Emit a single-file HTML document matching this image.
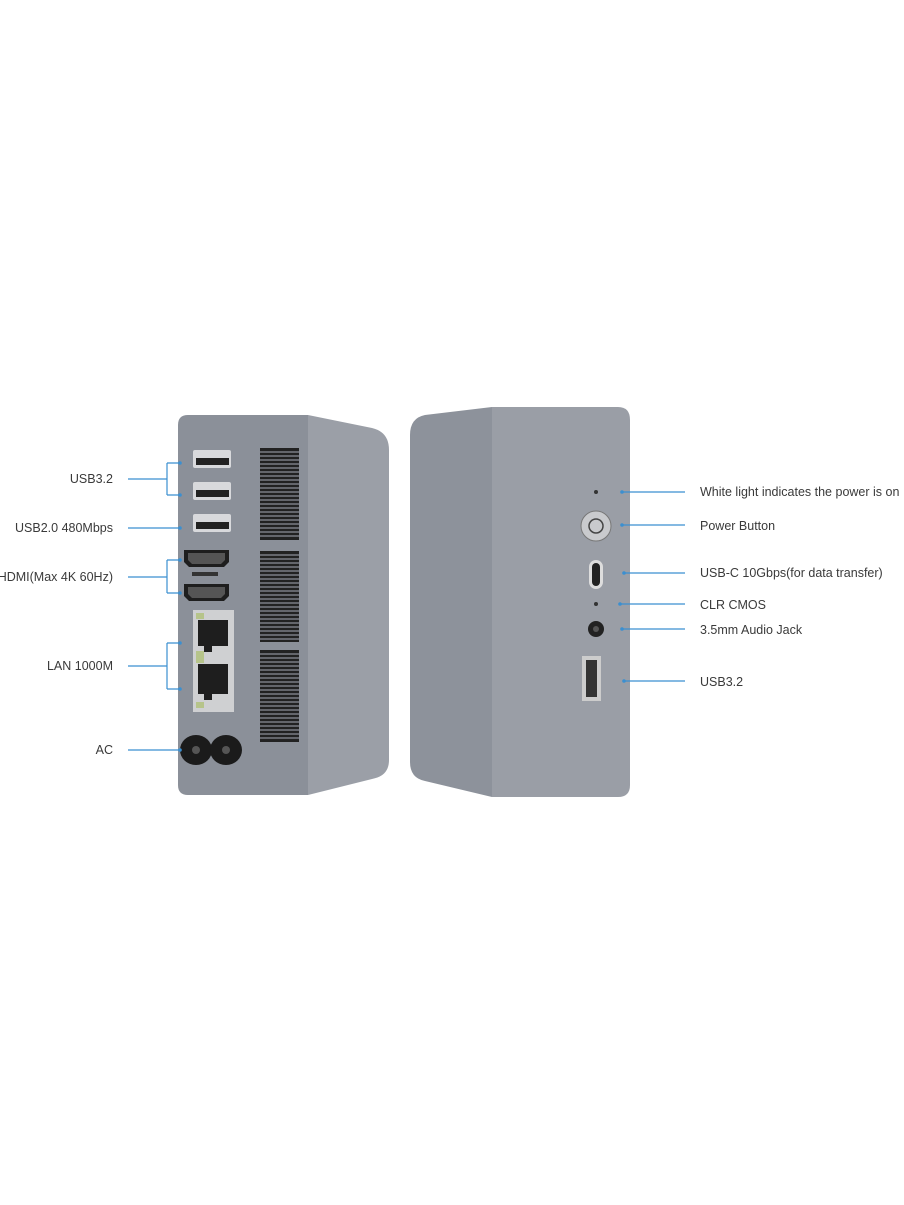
<!DOCTYPE html>
<html><head><meta charset="utf-8"><style>
html,body{margin:0;padding:0;background:#fff;}
svg{display:block;}
text{font-family:"Liberation Sans",sans-serif;font-size:12.5px;fill:#3a3a3a;}
</style></head><body>
<svg width="904" height="1205" viewBox="0 0 904 1205" xmlns="http://www.w3.org/2000/svg">
<!-- Left device -->
<path d="M308,415 L372,428 Q389,432 389,450 L389,760 Q389,776 372,779 L308,795 Z" fill="#9b9fa7"/>
<path d="M188,415 L308,415 L308,795 L188,795 Q178,795 178,785 L178,425 Q178,415 188,415 Z" fill="#8b9099"/>
<g fill="#222">
<rect x="260" y="448" width="39" height="92"/>
<rect x="260" y="551" width="39" height="91"/>
<rect x="260" y="650" width="39" height="92"/>
</g>
<g stroke="#8b9099" stroke-width="1.3">
<path d="M260,452H299M260,456H299M260,460H299M260,464H299M260,468H299M260,472H299M260,476H299M260,480H299M260,484H299M260,488H299M260,492H299M260,496H299M260,500H299M260,504H299M260,508H299M260,512H299M260,516H299M260,520H299M260,524H299M260,528H299M260,532H299M260,536H299"/>
<path d="M260,555H299M260,559H299M260,563H299M260,567H299M260,571H299M260,575H299M260,579H299M260,583H299M260,587H299M260,591H299M260,595H299M260,599H299M260,603H299M260,607H299M260,611H299M260,615H299M260,619H299M260,623H299M260,627H299M260,631H299M260,635H299M260,639H299"/>
<path d="M260,654H299M260,658H299M260,662H299M260,666H299M260,670H299M260,674H299M260,678H299M260,682H299M260,686H299M260,690H299M260,694H299M260,698H299M260,702H299M260,706H299M260,710H299M260,714H299M260,718H299M260,722H299M260,726H299M260,730H299M260,734H299M260,738H299"/>
</g>
<!-- USB ports -->
<g>
<rect x="193" y="450" width="38" height="18" rx="2" fill="#d8d9dc"/><rect x="196" y="458" width="33" height="7" fill="#222"/>
<rect x="193" y="482" width="38" height="18" rx="2" fill="#d8d9dc"/><rect x="196" y="490" width="33" height="7" fill="#222"/>
<rect x="193" y="514" width="38" height="18" rx="2" fill="#d8d9dc"/><rect x="196" y="522" width="33" height="7" fill="#222"/>
</g>
<!-- HDMI -->
<path d="M184,550 H229 V562 L224,567 H189 L184,562 Z" fill="#1e1e1e"/>
<path d="M188,553 H225 V560 L221,564 H192 L188,560 Z" fill="#555"/>
<rect x="192" y="572" width="26" height="4" fill="#333"/>
<path d="M184,584 H229 V596 L224,601 H189 L184,596 Z" fill="#1e1e1e"/>
<path d="M188,587 H225 V594 L221,598 H192 L188,594 Z" fill="#555"/>
<!-- LAN -->
<rect x="193" y="610" width="41" height="102" fill="#cfd0d2"/>
<path d="M198,620 H228 V646 H212 V652 H204 V646 H198 Z" fill="#1e1e1e"/>
<path d="M198,664 H228 V694 H212 V700 H204 V694 H198 Z" fill="#1e1e1e"/>
<rect x="196" y="613" width="8" height="6" fill="#b6c48a"/><rect x="196" y="651" width="8" height="6" fill="#b6c48a"/>
<rect x="196" y="657" width="8" height="6" fill="#b6c48a"/><rect x="196" y="702" width="8" height="6" fill="#b6c48a"/>
<!-- AC -->
<ellipse cx="196" cy="750" rx="16" ry="15" fill="#1b1b1b"/>
<ellipse cx="226" cy="750" rx="16" ry="15" fill="#1b1b1b"/>
<circle cx="196" cy="750" r="4" fill="#555"/><circle cx="226" cy="750" r="4" fill="#555"/>
<!-- left callouts -->
<g stroke="#3b8fd0" stroke-width="1.2" fill="none">
<path d="M128,479 H167 M167,463 V495 M167,463 H180 M167,495 H180"/>
<path d="M128,528 H180"/>
<path d="M128,577 H167 M167,560 V593 M167,560 H180 M167,593 H180"/>
<path d="M128,666 H167 M167,643 V689 M167,643 H180 M167,689 H180"/>
<path d="M128,750 H180"/>
</g>
<g fill="#3b8fd0"><circle cx="180" cy="463" r="1.8"/><circle cx="180" cy="495" r="1.8"/><circle cx="180" cy="528" r="1.8"/><circle cx="180" cy="560" r="1.8"/><circle cx="180" cy="593" r="1.8"/><circle cx="180" cy="643" r="1.8"/><circle cx="180" cy="689" r="1.8"/><circle cx="180" cy="750" r="1.8"/></g>
<g text-anchor="end">
<text x="113" y="483">USB3.2</text>
<text x="113" y="532">USB2.0 480Mbps</text>
<text x="113" y="581">HDMI(Max 4K 60Hz)</text>
<text x="113" y="670">LAN 1000M</text>
<text x="113" y="754">AC</text>
</g>
<!-- Right device -->
<path d="M492,407 L425,415 Q410,418 410,435 L410,762 Q410,778 425,781 L492,797 Z" fill="#8d929b"/>
<path d="M492,407 L618,407 Q630,407 630,420 L630,785 Q630,797 618,797 L492,797 Z" fill="#9a9ea6"/>
<circle cx="596" cy="492" r="2" fill="#333"/>
<circle cx="596" cy="526" r="15" fill="#c9cacd" stroke="#777" stroke-width="1"/>
<circle cx="596" cy="526" r="7" fill="none" stroke="#444" stroke-width="1.5"/>
<rect x="589" y="560" width="14" height="29" rx="7" fill="#ddd"/>
<rect x="592" y="563" width="8" height="23" rx="4" fill="#222"/>
<circle cx="596" cy="604" r="2" fill="#333"/>
<circle cx="596" cy="629" r="8" fill="#222"/><circle cx="596" cy="629" r="3" fill="#555"/>
<rect x="582" y="656" width="19" height="45" fill="#ccc"/>
<rect x="586" y="660" width="11" height="37" fill="#333"/>
<g stroke="#3b8fd0" stroke-width="1.2">
<path d="M622,492 H685 M622,525 H685 M624,573 H685 M620,604 H685 M622,629 H685 M624,681 H685"/>
</g>
<g fill="#3b8fd0"><circle cx="622" cy="492" r="1.8"/><circle cx="622" cy="525" r="1.8"/><circle cx="624" cy="573" r="1.8"/><circle cx="620" cy="604" r="1.8"/><circle cx="622" cy="629" r="1.8"/><circle cx="624" cy="681" r="1.8"/></g>
<text x="700" y="496">White light indicates the power is on</text>
<text x="700" y="530">Power Button</text>
<text x="700" y="577">USB-C 10Gbps(for data transfer)</text>
<text x="700" y="609">CLR CMOS</text>
<text x="700" y="634">3.5mm Audio Jack</text>
<text x="700" y="686">USB3.2</text>
</svg>
</body></html>
